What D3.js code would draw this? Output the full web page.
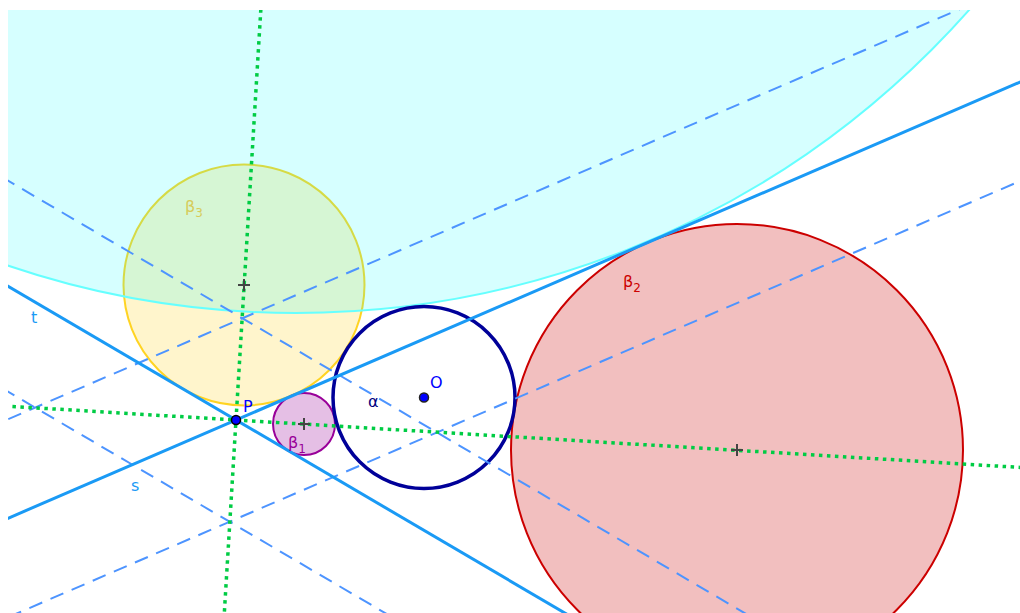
<!DOCTYPE html>
<html>
<head>
<meta charset="utf-8">
<script src="https://cdn.jsdelivr.net/npm/d3@7"></script>
<style>
  body { margin: 0; background: #fff; }
  text { font-family: "DejaVu Sans", sans-serif; }
</style>
</head>
<body>
<div id="figure"></div>
<script>
// Point P where t and s meet, and centre O of circle α (math units)
const pointP = [0, 0];
const pointO = [3.76, 0.45];

// Lines through P (slopes)
const lineNames = ["t", "s"];
const lineSlopes = [-0.587, 0.431];
const bisectorSlopes = [-0.0605, 16.53];

// Parallels to t and s at distance r(α): slope and y-intercept
const parallelSlopes = [-0.587, -0.587, 0.431, 0.431];
const parallelIntercepts = [2.11, -2.11, 1.98, -1.98];

// Circles: names, centres, radii
const circleNames = ["β2", "β1", "β3", "c", "α"];
const circleCx = [10.02, 1.36, 0.16, 1.20, 3.76];
const circleCy = [-0.60, -0.08, 2.70, 20.12, 0.45];
const circleR = [4.52, 0.62, 2.41, 17.98, 1.82];

// centre markers drawn for these circles
const markedCircles = ["β1", "β2", "β3"];

// ---- styles, kept apart from the data ----
const circleStyle = {
    "β2": { fill: "rgba(204,0,0,0.25)", stroke: "#cc0000", width: 2 },
    "β1": { fill: "rgba(153,0,153,0.25)", stroke: "#990099", width: 2 },
    "β3": { fill: "rgba(255,204,0,0.2)", stroke: "rgba(255,204,0,0.85)", width: 2 },
    "c":  { fill: "rgba(0,255,255,0.16)", stroke: "#66ffff", width: 2 },
    "α":  { fill: "none", stroke: "#000099", width: 3.5 }
};
const labelStyle = {
    "β1": { color: "#990099", dx: -16, dy: 24 },
    "β2": { color: "#cc0000", dx: -114, dy: -163 },
    "β3": { color: "#d6cc5a", dx: -59, dy: -73 },
    "α":  { color: "#000080", dx: -56, dy: 9 }
};

const W = 1020, H = 613;
const x = d3.scaleLinear().domain([-4.56, 15.68]).range([8, 1020]);
const y = d3.scaleLinear().domain([-3.86, 8.2]).range([613, 10]);
const k = x(1) - x(0);

const svg = d3.select("#figure").append("svg")
    .attr("width", W)
    .attr("height", H);

svg.append("clipPath").attr("id", "view")
    .append("rect")
    .attr("x", 8).attr("y", 10)
    .attr("width", W - 8).attr("height", H - 10);

const g = svg.append("g").attr("clip-path", "url(#view)");

// infinite line through (x0, y0) with slope m
function lineEnds(x0, y0, m) {
    const n = Math.sqrt(1 + m * m);
    const dx = 200 / n, dy = 200 * m / n;
    return [[x(x0 - dx), y(y0 - dy)], [x(x0 + dx), y(y0 + dy)]];
}

// Circles
const circles = circleNames.map((name, i) => ({
    name, cx: circleCx[i], cy: circleCy[i], r: circleR[i]
}));

g.selectAll("circle.obj")
    .data(circles)
    .enter().append("circle")
    .attr("class", "obj")
    .attr("cx", d => x(d.cx))
    .attr("cy", d => y(d.cy))
    .attr("r", d => d.r * k)
    .attr("fill", d => circleStyle[d.name].fill)
    .attr("stroke", d => circleStyle[d.name].stroke)
    .attr("stroke-width", d => circleStyle[d.name].width);

// Dashed parallels
g.selectAll("line.par")
    .data(parallelSlopes.map((m, i) => lineEnds(0, parallelIntercepts[i], m)))
    .enter().append("line")
    .attr("class", "par")
    .attr("x1", d => d[0][0]).attr("y1", d => d[0][1])
    .attr("x2", d => d[1][0]).attr("y2", d => d[1][1])
    .attr("stroke", "#4d94ff")
    .attr("stroke-width", 2)
    .attr("stroke-dasharray", "14,9");

// Solid lines t and s
g.selectAll("line.ts")
    .data(lineSlopes.map(m => lineEnds(pointP[0], pointP[1], m)))
    .enter().append("line")
    .attr("class", "ts")
    .attr("x1", d => d[0][0]).attr("y1", d => d[0][1])
    .attr("x2", d => d[1][0]).attr("y2", d => d[1][1])
    .attr("stroke", "#1a9af5")
    .attr("stroke-width", 3);

// Bisectors (dotted green)
g.selectAll("line.bis")
    .data(bisectorSlopes.map(m => lineEnds(pointP[0], pointP[1], m)))
    .enter().append("line")
    .attr("class", "bis")
    .attr("x1", d => d[0][0]).attr("y1", d => d[0][1])
    .attr("x2", d => d[1][0]).attr("y2", d => d[1][1])
    .attr("stroke", "#00cc44")
    .attr("stroke-width", 3.5)
    .attr("stroke-dasharray", "3.5,4.5");

// Centre crosses
const marked = circles.filter(d => markedCircles.includes(d.name));
const cross = g.selectAll("g.cross")
    .data(marked)
    .enter().append("g")
    .attr("class", "cross")
    .attr("transform", d => `translate(${x(d.cx)},${y(d.cy)})`);
cross.append("line").attr("x1", -6).attr("x2", 6).attr("y1", 0).attr("y2", 0);
cross.append("line").attr("x1", 0).attr("x2", 0).attr("y1", -6).attr("y2", 6);
cross.selectAll("line").attr("stroke", "#444").attr("stroke-width", 2);

// Points P and O
g.append("circle")
    .attr("cx", x(pointP[0])).attr("cy", y(pointP[1]))
    .attr("r", 4.5)
    .attr("fill", "#0000ff").attr("stroke", "#000").attr("stroke-width", 1.5);
g.append("circle")
    .attr("cx", x(pointO[0])).attr("cy", y(pointO[1]))
    .attr("r", 4.5)
    .attr("fill", "#0000ff").attr("stroke", "#222").attr("stroke-width", 1.5);

// Labels
const labels = g.append("g").style("font-size", "16px");

labels.append("text")
    .attr("x", x(pointP[0]) + 7).attr("y", y(pointP[1]) - 8)
    .attr("fill", "#0000ff").text("P");
labels.append("text")
    .attr("x", x(pointO[0]) + 6).attr("y", y(pointO[1]) - 10)
    .attr("fill", "#0000ff").text("O");

// line labels t and s
const lineLabelOffsets = { t: [-205, -97], s: [-105, 71] };
lineNames.forEach(name => {
    labels.append("text")
        .attr("x", x(pointP[0]) + lineLabelOffsets[name][0])
        .attr("y", y(pointP[1]) + lineLabelOffsets[name][1])
        .attr("fill", "#1a9af5")
        .text(name);
});

circles.filter(d => labelStyle[d.name]).forEach(d => {
    const st = labelStyle[d.name];
    const t = labels.append("text")
        .attr("x", x(d.cx) + st.dx)
        .attr("y", y(d.cy) + st.dy)
        .attr("fill", st.color);
    t.append("tspan").text(d.name[0]);
    if (d.name.length > 1) {
        t.append("tspan")
            .attr("dy", 5)
            .style("font-size", "12px")
            .text(d.name.slice(1));
    }
});
</script>
</body>
</html>
